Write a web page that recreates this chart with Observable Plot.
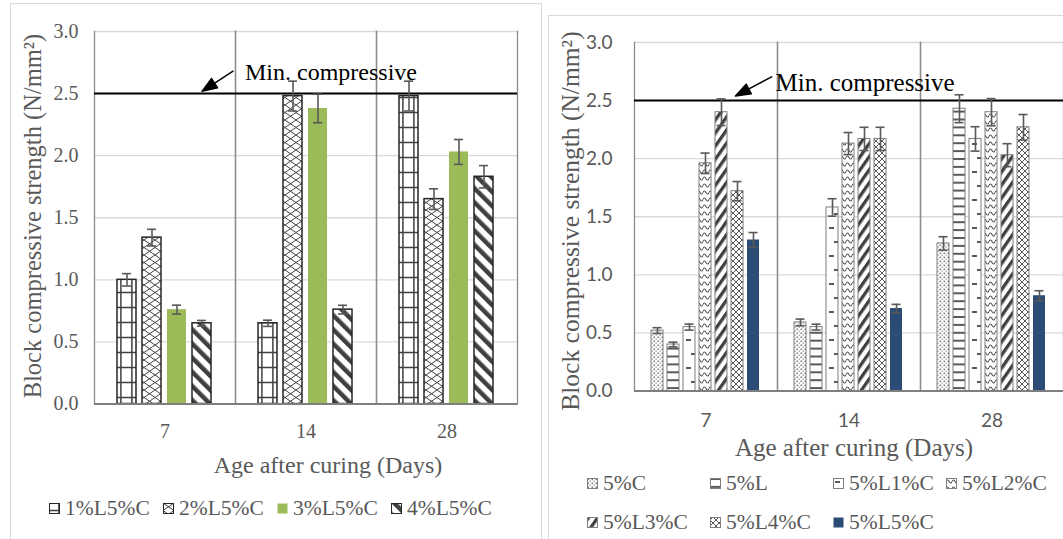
<!DOCTYPE html>
<html><head><meta charset="utf-8">
<script src="https://cdn.jsdelivr.net/npm/d3@7"></script>
<script src="https://cdn.jsdelivr.net/npm/@observablehq/plot@0.6"></script>
<style>
body{margin:0;width:1063px;height:539px;overflow:hidden;background:#fff;position:relative;font-family:"Liberation Serif",serif;color:#595959;}
svg{max-width:none !important;}
.abs{position:absolute;white-space:nowrap;line-height:1;}
.ytitle{transform:translate(-50%,-50%) rotate(-90deg);}
.xtitle{transform:translate(-50%,-50%);}
.legend{position:absolute;display:grid;font-size:21.5px;color:#595959;row-gap:14px;}
.item{display:flex;align-items:center;white-space:nowrap;}
.item svg{margin-right:5px;flex:none;}
.border{position:absolute;border:1px solid #d9d9d9;pointer-events:none;}
</style></head><body>
<svg width="0" height="0" style="position:absolute">
<defs>
 <pattern id="pGrid" patternUnits="userSpaceOnUse" width="11" height="15"><rect width="11" height="15" fill="#fff"/><path d="M9.9 0V15M0 7.5H11" stroke="#404040" stroke-width="1.5" fill="none"/></pattern>
 <pattern id="pLattice" patternUnits="userSpaceOnUse" width="11" height="15"><rect width="11" height="15" fill="#fff"/><path d="M0 0L11 7.5L0 15M11 0L0 7.5L11 15" stroke="#404040" stroke-width="1" fill="none"/></pattern>
 <pattern id="pDown" patternUnits="userSpaceOnUse" width="10" height="10" patternTransform="rotate(-45)"><rect width="10" height="10" fill="#fff"/><rect width="4.5" height="10" fill="#404040"/></pattern>
 <pattern id="pDots" patternUnits="userSpaceOnUse" width="4" height="4"><rect width="4" height="4" fill="#fff"/><rect x="0.5" y="0.5" width="1.6" height="1.6" fill="#7f7f7f"/><rect x="2.5" y="2.5" width="1.4" height="1.4" fill="#a6a6a6"/></pattern>
 <pattern id="pHoriz" patternUnits="userSpaceOnUse" width="8" height="7.9"><rect width="8" height="7.9" fill="#fff"/><rect y="0" width="8" height="2" fill="#595959"/></pattern>
 <pattern id="pDash" patternUnits="userSpaceOnUse" width="13" height="28"><rect width="13" height="28" fill="#fff"/><rect x="2" y="3" width="5" height="2" fill="#595959"/><rect x="7" y="17" width="5" height="2" fill="#595959"/></pattern>
 <pattern id="pWave" patternUnits="userSpaceOnUse" width="6" height="7"><rect width="6" height="7" fill="#fff"/><path d="M0 3.5Q1.5 0.5 3 3.5Q4.5 6.5 6 3.5" stroke="#595959" stroke-width="1.2" fill="none"/></pattern>
 <pattern id="pUp" patternUnits="userSpaceOnUse" width="7.5" height="10" patternTransform="rotate(35)"><rect width="7.5" height="10" fill="#fff"/><rect width="3.3" height="10" fill="#404040"/></pattern>
 <pattern id="pCheck" patternUnits="userSpaceOnUse" width="6" height="6"><rect width="6" height="6" fill="#fff"/><path d="M0 3L3 0L6 3L3 6Z" stroke="#595959" stroke-width="1" fill="none"/></pattern>
</defs></svg>

<div id="left" style="position:absolute;left:0;top:0;width:540px"></div>
<div id="right" style="position:absolute;left:540px;top:0;width:560px"></div>

<div class="abs ytitle" style="left:33px;top:216px;font-size:24.5px">Block compressive strength (N/mm²)</div>
<div class="abs xtitle" style="left:328px;top:465px;font-size:24px">Age after curing (Days)</div>
<div class="abs ytitle" style="left:571px;top:221px;font-size:25.5px">Block compressive strength (N/mm²)</div>
<div class="abs xtitle" style="left:854px;top:447px;font-size:25px">Age after curing (Days)</div>

<div id="legL" class="legend" style="left:49px;top:496px;grid-template-columns:114px 114px 114px 114px"></div>
<div id="legR" class="legend" style="left:587px;top:471px;grid-template-columns:123px 123px 113px 130px"></div>

<div class="border" style="left:10px;top:3px;width:530px;height:600px"></div>
<div class="border" style="left:548px;top:15px;width:600px;height:600px"></div>

<script>
// ---- shared data ----
const days = ["7", "14", "28"];
const minStrength = 2.5;
const annotationText = "Min. compressive";
const yTicks = [0, 0.5, 1, 1.5, 2, 2.5, 3];

// ---- left panel data ----
const seriesL = ["1%L5%C", "2%L5%C", "3%L5%C", "4%L5%C"];
const l1 = [1.00, 0.65, 2.48];
const l2 = [1.34, 2.48, 1.65];
const l3 = [0.76, 2.38, 2.03];
const l4 = [0.65, 0.76, 1.83];
const e1 = [0.05, 0.025, 0.12];
const e2 = [0.067, 0.12, 0.083];
const e3 = [0.036, 0.115, 0.10];
const e4 = [0.023, 0.035, 0.09];
const fillsL = ["url(#pGrid)", "url(#pLattice)", "#9bbb59", "url(#pDown)"];

// ---- right panel data ----
const seriesR = ["5%C", "5%L", "5%L1%C", "5%L2%C", "5%L3%C", "5%L4%C", "5%L5%C"];
const r1 = [0.52, 0.59, 1.27];
const r2 = [0.40, 0.55, 2.43];
const r3 = [0.55, 1.58, 2.17];
const r4 = [1.96, 2.13, 2.40];
const r5 = [2.40, 2.17, 2.03];
const r6 = [1.72, 2.17, 2.27];
const r7 = [1.30, 0.71, 0.82];
const f1 = [0.025, 0.029, 0.058];
const f2 = [0.02, 0.025, 0.12];
const f3 = [0.026, 0.075, 0.105];
const f4 = [0.088, 0.095, 0.117];
const f5 = [0.115, 0.10, 0.099];
const f6 = [0.083, 0.10, 0.11];
const f7 = [0.064, 0.036, 0.043];
const fillsR = ["url(#pDots)", "url(#pHoriz)", "url(#pDash)", "url(#pWave)", "url(#pUp)", "url(#pCheck)", "#2b4c74"];

function rowsOf(series, vals, errs) {
  return series.flatMap((s, i) => days.map((d, j) => ({series: s, day: d, value: vals[i][j], err: errs[i][j]})));
}

const arrowShape = {
  draw(ctx, l) {
    ctx.moveTo(0, 0);
    ctx.lineTo(0, -l + 12);
    ctx.moveTo(-5.5, -l + 15);
    ctx.lineTo(0, -l);
    ctx.lineTo(5.5, -l + 15);
    ctx.closePath();
  }
};

function panel(cfg) {
  const rows = rowsOf(cfg.series, cfg.vals, cfg.errs);
  const solid = new Set(cfg.series.filter((s, i) => !cfg.fills[i].startsWith("url")));
  const errStyle = {fx: "day", x: "series", stroke: "#595959", strokeWidth: 1.6};
  return Plot.plot({
    width: cfg.width, height: cfg.height,
    marginLeft: 93, marginRight: cfg.marginRight, marginTop: cfg.marginTop, marginBottom: cfg.marginBottom,
    style: {fontFamily: cfg.tickFont, fontSize: cfg.tickSize + "px", color: "#595959", background: "none", overflow: "visible", maxWidth: "none"},
    fx: {domain: days, padding: 0, label: null},
    x: {domain: cfg.series, paddingInner: 0.23, paddingOuter: cfg.paddingOuter, axis: null},
    y: {domain: [0, 3], label: null},
    color: {domain: cfg.series, range: cfg.fills},
    marks: [
      Plot.gridY(yTicks, {stroke: "#d9d9d9", strokeOpacity: 1, strokeWidth: 1.3}),
      Plot.frame({anchor: "left", stroke: "#8c8c8c", strokeWidth: 1.3}),
      Plot.frame({anchor: "right", stroke: "#8c8c8c", strokeWidth: 1.3}),
      Plot.axisY(yTicks, {tickSize: 0, tickPadding: cfg.yPad, tickFormat: d3.format(".1f"), label: null, fill: "#595959"}),
      Plot.axisFx({anchor: "bottom", tickSize: 0, tickPadding: cfg.xPad, label: null, fill: "#595959"}),
      Plot.barY(rows.filter(r => !solid.has(r.series)), {fx: "day", x: "series", y: "value", fill: "series", stroke: cfg.barStroke, strokeWidth: cfg.barStrokeWidth}),
      Plot.barY(rows.filter(r => solid.has(r.series)), {fx: "day", x: "series", y: "value", fill: "series"}),
      Plot.ruleY([0], {stroke: "#7f7f7f", strokeWidth: 2}),
      Plot.ruleY([minStrength], {stroke: "#000", strokeWidth: 2}),
      Plot.ruleX(rows, {...errStyle, y1: d => d.value - d.err, y2: d => d.value + d.err}),
      Plot.tickY(rows, {...errStyle, y: d => d.value + d.err, insetLeft: cfg.capInset, insetRight: cfg.capInset}),
      Plot.tickY(rows, {...errStyle, y: d => d.value - d.err, insetLeft: cfg.capInset, insetRight: cfg.capInset}),
      Plot.text([annotationText], {fx: () => days[0], x: () => cfg.annX, y: () => cfg.annY, text: d => d, textAnchor: "start", dx: cfg.annDx, fontSize: cfg.annSize, fontFamily: "Liberation Serif", fill: "#000"}),
      Plot.vector([annotationText], {fx: () => days[0], x: () => cfg.annX, y: () => cfg.tipY, dx: cfg.tipDx, anchor: "end", length: cfg.arrowLen, rotate: cfg.arrowRot, shape: arrowShape, fill: "#000", stroke: "#000", strokeWidth: 1.5})
    ]
  });
}

document.getElementById("left").append(panel({
  series: seriesL, vals: [l1, l2, l3, l4], errs: [e1, e2, e3, e4], fills: fillsL,
  width: 540, height: 440, marginRight: 23, marginTop: 31, marginBottom: 36.5,
  paddingOuter: 0.85, tickFont: "Liberation Serif", tickSize: 20, yPad: 16, xPad: 20,
  barStroke: "#262626", barStrokeWidth: 1.5, capInset: 5,
  annX: "4%L5%C", annY: 2.67, annDx: 43, annSize: 24, tipY: 2.518, tipDx: 0, arrowLen: 37, arrowRot: 237
}));

document.getElementById("right").append(panel({
  series: seriesR, vals: [r1, r2, r3, r4, r5, r6, r7], errs: [f1, f2, f3, f4, f5, f6, f7], fills: fillsR,
  width: 545, height: 430, marginRight: 21, marginTop: 42, marginBottom: 39.5,
  paddingOuter: 0.855, tickFont: "Lato", tickSize: 19, yPad: 22, xPad: 22,
  barStroke: "#7f7f7f", barStrokeWidth: 1, capInset: 1.5,
  annX: "5%L4%C", annY: 2.654, annDx: 38, annSize: 25, tipY: 2.539, tipDx: -2, arrowLen: 41, arrowRot: 242
}));

function legend(id, series, fills, stroke) {
  const el = document.getElementById(id);
  series.forEach((s, i) => {
    const item = document.createElement("div");
    item.className = "item";
    const solid = !fills[i].startsWith("url");
    item.innerHTML = `<svg width="11" height="11"><rect x="0.5" y="0.5" width="10" height="10" fill="${fills[i]}" stroke="${solid ? "none" : stroke}" stroke-width="1"/></svg><span>${s}</span>`;
    el.append(item);
  });
}
legend("legL", seriesL, fillsL, "#262626");
legend("legR", seriesR, fillsR, "#7f7f7f");
</script>
</body></html>
